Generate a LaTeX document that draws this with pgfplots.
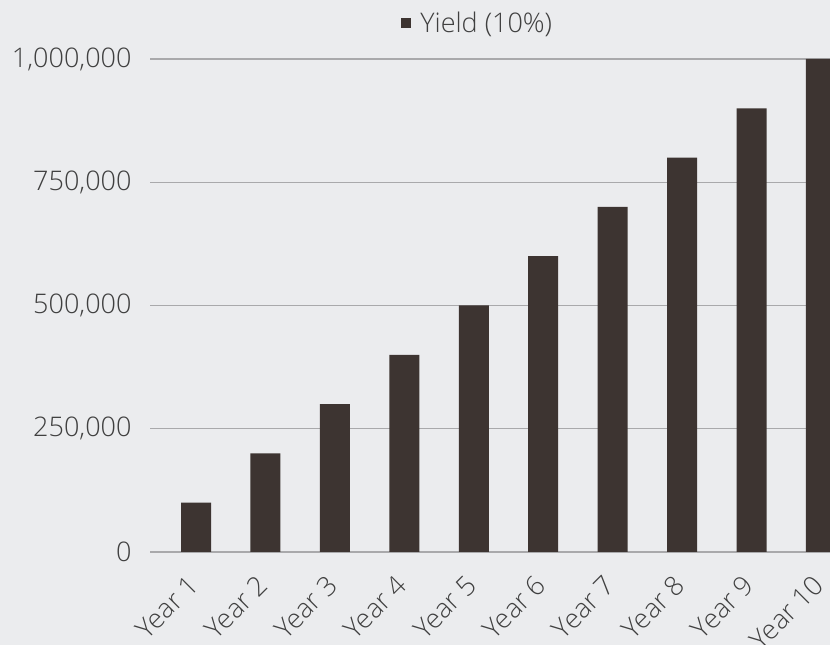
\documentclass[border=0pt]{standalone}
\usepackage{pgfplots}
\pgfplotsset{compat=1.18}
\usepackage{fontspec}
\IfFontExistsTF{Open Sans Light}{\setmainfont{Open Sans Light}}{\setmainfont{Open Sans}}
\definecolor{bg}{HTML}{EBECEE}
\definecolor{barcol}{HTML}{3D3431}
\definecolor{gridcol}{HTML}{A9A9AB}
\definecolor{textcol}{HTML}{404040}
\begin{document}
\begin{tikzpicture}
\fill[bg] (0,0) rectangle (830bp,645bp);
\begin{axis}[
    at={(150bp,93bp)}, anchor=south west,
    scale only axis, width=680bp, height=493bp,
    xmin=0.337, xmax=10.13, ymin=0, ymax=1000000,
    ybar, bar width=30bp,
    axis x line*=bottom, axis y line*=left,
    x axis line style={draw=gridcol, line width=1.2bp, -},
    y axis line style={draw=none},
    major tick length=0pt,
    xtick={1,...,10},
    xticklabels={Year 1,Year 2,Year 3,Year 4,Year 5,Year 6,Year 7,Year 8,Year 9,Year 10},
    ytick={0,250000,500000,750000,1000000},
    ymajorgrids, grid style={draw=gridcol, line width=1.2bp},
    scaled y ticks=false,
    /pgf/number format/.cd, fixed, 1000 sep={,}, assume math mode=true, /pgfplots/.cd,
    tick label style={font=\fontsize{27bp}{31bp}\selectfont, text=textcol},
    yticklabel style={xshift=-15bp},
    xticklabel style={yshift=-26bp, rotate=45, anchor=east},
    legend style={at={(0.482,1.073)}, anchor=center, draw=none, fill=none,
        font=\fontsize{27bp}{31bp}\selectfont, text=textcol},
    legend image code/.code={\fill[barcol] (0bp,-5bp) rectangle (10bp,5bp); \path (17bp,0bp);},
]
\addplot[fill=barcol, draw=none] coordinates {
    (1,100000) (2,200000) (3,300000) (4,400000) (5,500000)
    (6,600000) (7,700000) (8,800000) (9,900000) (10,1000000)
};
\addlegendentry{Yield (10\%)}
\end{axis}
\pgfresetboundingbox
\useasboundingbox (0,0) rectangle (830bp,645bp);
\end{tikzpicture}
\end{document}
